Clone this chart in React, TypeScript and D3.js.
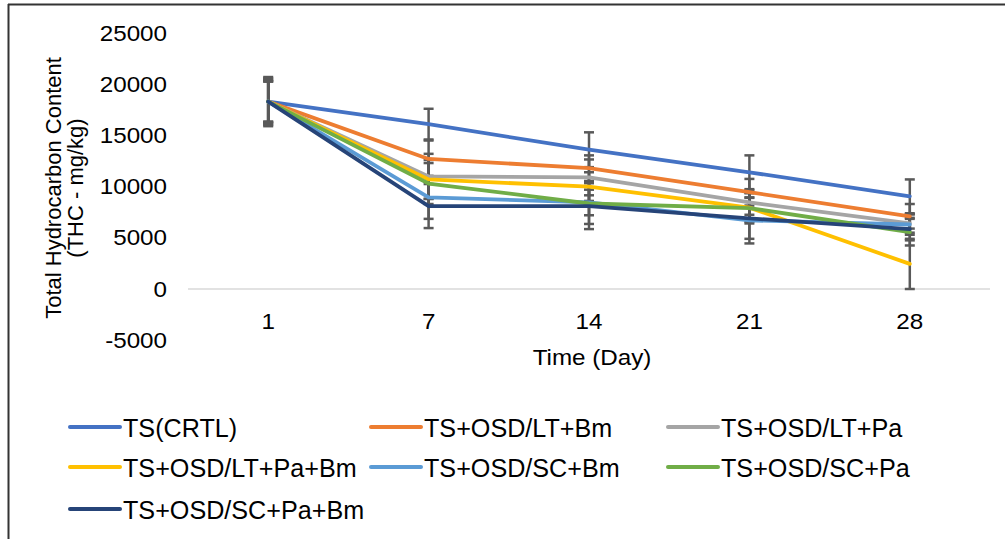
import React from "react";
import * as d3 from "d3";

const days = ["1", "7", "14", "21", "28"];
const seriesNames = [
  "TS(CRTL)",
  "TS+OSD/LT+Bm",
  "TS+OSD/LT+Pa",
  "TS+OSD/LT+Pa+Bm",
  "TS+OSD/SC+Bm",
  "TS+OSD/SC+Pa",
  "TS+OSD/SC+Pa+Bm",
];
const colors = ["#4472C4", "#ED7D31", "#A5A5A5", "#FFC000", "#5B9BD5", "#70AD47", "#264478"];

const crtl = [18300, 16100, 13600, 11400, 9050];
const ltBm = [18300, 12700, 11800, 9450, 7100];
const ltPa = [18300, 11000, 10900, 8450, 6400];
const ltPaBm = [18300, 10700, 10000, 7950, 2450];
const scBm = [18300, 8950, 8450, 6700, 6300];
const scPa = [18300, 10300, 8350, 7900, 5550];
const scPaBm = [18300, 8100, 8100, 6900, 5850];
const values = [crtl, ltBm, ltPa, ltPaBm, scBm, scPa, scPaBm];

const errCrtl = [2400, 1500, 1700, 1650, 1650];
const errLtBm = [2000, 1800, 1250, 1300, 1200];
const errLtPa = [2200, 2200, 1750, 1200, 900];
const errLtPaBm = [1950, 1900, 1400, 1400, 2450];
const errScBm = [2300, 2100, 1250, 2250, 1000];
const errScPa = [2100, 2000, 2000, 1500, 1300];
const errScPaBm = [2000, 2150, 2250, 2000, 1100];
const errors = [errCrtl, errLtBm, errLtPa, errLtPaBm, errScBm, errScPa, errScPaBm];

const yTicks = [-5000, 0, 5000, 10000, 15000, 20000, 25000];

const FONT = "Arial, 'Liberation Sans', sans-serif";

function SText({ x, y, anchor = "start", size = 22, sx = 1.1, children }: any) {
  return (
    <g transform={`translate(${x},${y}) scale(${sx},1)`}>
      <text x={0} y={0} textAnchor={anchor} fontSize={size} fontFamily={FONT} fill="#000">
        {children}
      </text>
    </g>
  );
}

export default function App() {
  const W = 1005;
  const H = 539;
  const x = d3.scaleBand().domain(days).range([188, 990]);
  const y = d3.scaleLinear().domain([-5000, 25000]).range([340.2, 33]);
  const cx = (d: string) => (x(d) as number) + x.bandwidth() / 2;
  const line = d3
    .line<number>()
    .x((_, i) => cx(days[i]))
    .y((v) => y(v));

  const legendCols = [70, 371, 668];
  const legendRows = [427, 467, 509];

  return (
    <svg
      width={W}
      height={H}
      style={{ position: "absolute", left: 0, top: 0, background: "#fff" }}
    >
      <rect x={0} y={0} width={W} height={H} fill="#fff" />
      {/* frame */}
      <line x1={8} y1={4.5} x2={W} y2={4.5} stroke="#333" strokeWidth={2} />
      <line x1={8.5} y1={4} x2={8.5} y2={H} stroke="#333" strokeWidth={2} />

      {/* y tick labels */}
      {yTicks.map((t) => (
        <SText key={t} x={167} y={y(t) + 7.5} anchor="end">
          {String(t)}
        </SText>
      ))}

      {/* y title */}
      <text
        transform="translate(61,188) rotate(-90)"
        textAnchor="middle"
        fontSize={22}
        fontFamily={FONT}
        fill="#000"
      >
        Total Hydrocarbon Content
      </text>
      <text
        transform="translate(83,188) rotate(-90)"
        textAnchor="middle"
        fontSize={22}
        fontFamily={FONT}
        fill="#000"
      >
        (THC - mg/kg)
      </text>

      {/* zero axis line */}
      <line x1={188} x2={990} y1={y(0)} y2={y(0)} stroke="#D9D9D9" strokeWidth={1.5} />

      {/* x tick labels */}
      {days.map((d) => (
        <SText key={d} x={cx(d)} y={329} anchor="middle">
          {d}
        </SText>
      ))}
      <SText x={592} y={365} anchor="middle">
        Time (Day)
      </SText>

      {/* error bars */}
      {values.map((vals, si) => (
        <g key={`e${si}`} stroke="#595959" strokeWidth={2.5}>
          {vals.map((v, i) => {
            const e = errors[si][i];
            const px = cx(days[i]);
            return (
              <g key={i}>
                <line x1={px} x2={px} y1={y(v + e)} y2={y(v - e)} />
                <line x1={px - 5} x2={px + 5} y1={y(v + e)} y2={y(v + e)} />
                <line x1={px - 5} x2={px + 5} y1={y(v - e)} y2={y(v - e)} />
              </g>
            );
          })}
        </g>
      ))}

      {/* lines */}
      {values.map((vals, si) => (
        <path
          key={`l${si}`}
          d={line(vals) as string}
          fill="none"
          stroke={colors[si]}
          strokeWidth={3.8}
          strokeLinejoin="round"
          strokeLinecap="round"
        />
      ))}

      {/* legend */}
      {seriesNames.map((name, i) => {
        const lx = legendCols[i % 3];
        const ly = legendRows[Math.floor(i / 3)];
        return (
          <g key={name}>
            <line x1={lx} x2={lx + 50} y1={ly} y2={ly} stroke={colors[i]} strokeWidth={4} strokeLinecap="round" />
            <SText x={lx + 53} y={ly + 9.5} size={26.5} sx={0.95}>
              {name}
            </SText>
          </g>
        );
      })}
    </svg>
  );
}
